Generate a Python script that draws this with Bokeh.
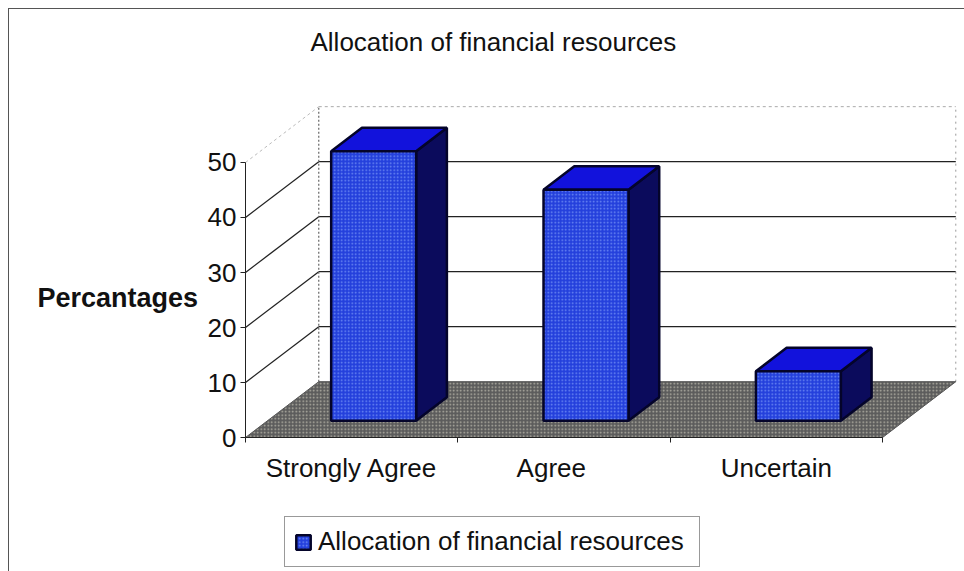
from bokeh.plotting import figure
from bokeh.embed import file_html
from bokeh.resources import INLINE
from bokeh.models import (Range1d, FixedTicker, Legend, LegendItem, Label)

# ---- chart data ----
title_text = "Allocation of financial resources"
y_axis_title = "Percantages"
categories = ["Strongly Agree", "Agree", "Uncertain"]
values = [49, 42, 9]
y_ticks = [0, 10, 20, 30, 40, 50]
category_edges = [0, 1, 2, 3]
label_positions = [0.5, 1.44, 2.5]

# ---- oblique 3D projection, in data units ----
DEPTH_X = 0.345      # shift of the back wall, in categories
DEPTH_Y = 10.15      # rise of the back wall, in value units
BAR_NEAR = 0.30      # front face of the bars, as a fraction of the depth
BAR_FAR = 0.72       # back face of the bars
BAR_WIDTH = 0.40
Y_MAX = 50
n = len(categories)

FONT = "Liberation Sans"
FS = "26px"
INK = "#111111"
EDGE = "#04042a"

p = figure(width=964, height=571, output_backend="svg", toolbar_location=None,
           x_range=Range1d(-1.1538, 3.386), y_range=Range1d(-24.36, 68.18),
           min_border_left=0, min_border_right=0, min_border_top=62, min_border_bottom=0)
p.outline_line_color = None
p.grid.visible = False
p.background_fill_alpha = 0
p.border_fill_alpha = 0
# the chart area's frame shows only on its top and left sides
p.styles = {
    "background-image": "linear-gradient(#555,#555),linear-gradient(#555,#555)",
    "background-size": "1px 563px, 956px 1px",
    "background-position": "8px 8px, 8px 8px",
    "background-repeat": "no-repeat",
}

# back wall grid lines and their diagonals on the side wall
for t in y_ticks[1:-1]:
    p.line([DEPTH_X, n + DEPTH_X], [t + DEPTH_Y, t + DEPTH_Y], line_color="#222222", line_width=1.3)
    p.line([0, DEPTH_X], [t, t + DEPTH_Y], line_color="#222222", line_width=1.3)

# dotted wall edges
p.line([DEPTH_X, n + DEPTH_X], [Y_MAX + DEPTH_Y] * 2, line_color="#aaaaaa", line_dash="3 3", line_width=1)
p.line([DEPTH_X, DEPTH_X], [DEPTH_Y, Y_MAX + DEPTH_Y], line_color="#666666", line_dash="2 2", line_width=1.2)
p.line([n + DEPTH_X, n + DEPTH_X], [DEPTH_Y, Y_MAX + DEPTH_Y], line_color="#999999", line_dash="2 4", line_width=1)
p.line([0, DEPTH_X], [Y_MAX, Y_MAX + DEPTH_Y], line_color="#bbbbbb", line_dash="3 3", line_width=1)

# floor
floor_x = [0, n, n + DEPTH_X, DEPTH_X]
floor_y = [0, 0, DEPTH_Y, DEPTH_Y]
p.patch(floor_x, floor_y, fill_color="#5c5c5c", line_color="#555555",
        hatch_pattern="dot", hatch_color="#b4b2a6", hatch_scale=3.5, hatch_weight=1.2)

# bars
front = None
for i, v in enumerate(values):
    c = i + 0.5 + BAR_NEAR * DEPTH_X
    l, r = c - BAR_WIDTH / 2, c + BAR_WIDTH / 2
    b = BAR_NEAR * DEPTH_Y
    t = b + v
    ddx = (BAR_FAR - BAR_NEAR) * DEPTH_X
    ddy = (BAR_FAR - BAR_NEAR) * DEPTH_Y
    p.patch([r, r + ddx, r + ddx, r], [b, b + ddy, t + ddy, t],
            fill_color="#0b0b5c", line_color=EDGE, line_width=2.5)
    p.patch([l, r, r + ddx, l + ddx], [t, t, t + ddy, t + ddy],
            fill_color="#1212dc", line_color=EDGE, line_width=2.5)
    bar = p.vbar(x=[c], bottom=[b], top=[t], width=BAR_WIDTH,
                 fill_color="#2440dc", line_color=EDGE, line_width=2.5,
                 hatch_pattern="dot", hatch_color="#6f8cf4", hatch_scale=3.5, hatch_weight=1.1)
    front = front or bar

# axes: held at the front plane of the chart
ya = p.yaxis[0]
ya.fixed_location = 0
ya.ticker = FixedTicker(ticks=y_ticks)
ya.bounds = (0, Y_MAX)
ya.major_label_text_font = FONT
ya.major_label_text_font_size = FS
ya.major_label_text_color = INK
ya.major_label_standoff = 4
ya.major_tick_in = 0
ya.major_tick_out = 5
ya.minor_tick_in = 0
ya.minor_tick_out = 0
ya.axis_line_color = "#222222"
ya.major_tick_line_color = "#222222"

xa = p.xaxis[0]
xa.fixed_location = 0
xa.ticker = FixedTicker(ticks=label_positions, minor_ticks=category_edges)
xa.major_label_overrides = dict(zip(label_positions, categories))
xa.bounds = (0, n)
xa.major_label_text_font = FONT
xa.major_label_text_font_size = FS
xa.major_label_text_color = INK
xa.major_label_standoff = 10
xa.major_tick_in = 0
xa.major_tick_out = 0
xa.minor_tick_in = 0
xa.minor_tick_out = 5
xa.axis_line_color = "#222222"
xa.minor_tick_line_color = "#222222"

# axis title, horizontal and beside the lower half of the axis
p.add_layout(Label(x=-0.98, y=25.3, text=y_axis_title,
                   text_font=FONT, text_font_size="27px", text_font_style="bold",
                   text_color=INK, text_baseline="middle"))

# title
p.title.text = title_text
p.title.align = "left"
p.title.offset = 310
p.title.text_font = FONT
p.title.text_font_size = FS
p.title.text_font_style = "normal"
p.title.text_color = INK
p.title.standoff = 12

# legend
legend = Legend(items=[LegendItem(label=title_text, renderers=[front])], location=(284, 4),
                label_text_font=FONT, label_text_font_size=FS, label_text_color=INK,
                border_line_color="#333333", border_line_width=1, background_fill_alpha=1,
                glyph_width=18, glyph_height=18, padding=9, margin=0, label_standoff=6,
                label_width=372)
p.add_layout(legend, "center")

open("out.html", "w").write(file_html(p, INLINE))
